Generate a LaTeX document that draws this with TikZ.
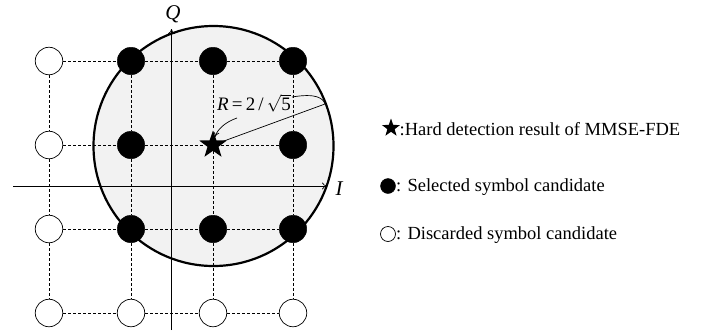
\documentclass[tikz,border=0pt]{standalone}
\usepackage{fontspec}
\setmainfont{Liberation Serif}
\usetikzlibrary{shapes.geometric,arrows.meta}
\begin{document}
\begin{tikzpicture}[x=1pt,y=-1pt,
  opendot/.style={circle,draw,fill=white,minimum size=27.5pt,inner sep=0pt,line width=0.7pt},
  filldot/.style={circle,draw,fill=black,minimum size=27.5pt,inner sep=0pt},
  starmark/.style={star,star points=5,star point ratio=2.5,fill=black,minimum size=29pt,inner sep=0pt},
  gridline/.style={line width=0.6pt,dash pattern=on 3pt off 2pt},
  axisline/.style={line width=0.7pt,-{To[length=5pt,width=7pt]}},
  legtext/.style={anchor=base west,inner sep=0pt,font=\fontsize{18.5}{22}\selectfont}
]
\useasboundingbox (0,0) rectangle (702,330);
% region
\draw[fill=black!5,line width=2.2pt] (213.5,146) circle (120);
% grid nodes
\node[filldot] (c11) at (131,61) {};
\node[filldot] (c12) at (213,61) {};
\node[filldot] (c13) at (293,61) {};
\node[opendot] (c10) at (49,61) {};
\node[opendot] (c20) at (49,145) {};
\node[filldot] (c21) at (131,145) {};
\node[starmark] (st) at (213,145) {};
\node[filldot] (c23) at (293,145) {};
\node[opendot] (c30) at (49,229) {};
\node[filldot] (c31) at (131,229) {};
\node[filldot] (c32) at (213,229) {};
\node[filldot] (c33) at (293,229) {};
\node[opendot] (c40) at (49,313) {};
\node[opendot] (c41) at (131,313) {};
\node[opendot] (c42) at (213,313) {};
\node[opendot] (c43) at (293,313) {};
% dashed grid
\foreach \a/\b in {c10/c11,c11/c12,c12/c13,c20/c21,c21/st,st/c23,c30/c31,c31/c32,c32/c33,c40/c41,c41/c42,c42/c43,
  c10/c20,c20/c30,c30/c40,c11/c21,c21/c31,c31/c41,c12/st,st/c32,c32/c42,c13/c23,c23/c33,c33/c43}
  \draw[gridline] (\a) -- (\b);
% axes
\coordinate (xs) at (13,186);
\coordinate (xe) at (327,186);
\coordinate (ys) at (171.5,330);
\coordinate (ye) at (171.5,29);
\draw[axisline] (xs) -- (xe);
\draw[axisline] (ys) -- (ye);
\node[font=\fontsize{21}{24}\selectfont\itshape] (lI) at (339,189) {I};
\node[font=\fontsize{21}{24}\selectfont\itshape] (lQ) at (173,14) {Q};
% radius
\coordinate (rp) at (325,104);
\draw[line width=0.7pt] (st.center) -- (rp);
\node[font=\fontsize{19}{22}\selectfont,inner sep=1pt] (rl) at (254,103) {\textit{R}\,=\,2\,/\,$\sqrt{\mbox{5}}$};
\draw[line width=0.7pt,-{To[length=5pt,width=6pt]}] (237,118) .. controls (225,122) and (217,130) .. (215,137);
\draw[line width=0.7pt] (rl.east) ++(0,-6) .. controls (316,93) and (323,98) .. (rp);
% legend
\node[starmark,minimum size=19pt] (lg1) at (391,128) {};
\node[legtext] (t1) at (399.5,135) {:Hard detection result of MMSE-FDE};
\node[filldot,minimum size=15pt] (lg2) at (388,186) {};
\node[legtext] (t2) at (396,191) {: Selected symbol candidate};
\node[opendot,minimum size=15pt] (lg3) at (388,234) {};
\node[legtext] (t3) at (396,239) {: Discarded symbol candidate};
\end{tikzpicture}
\end{document}
